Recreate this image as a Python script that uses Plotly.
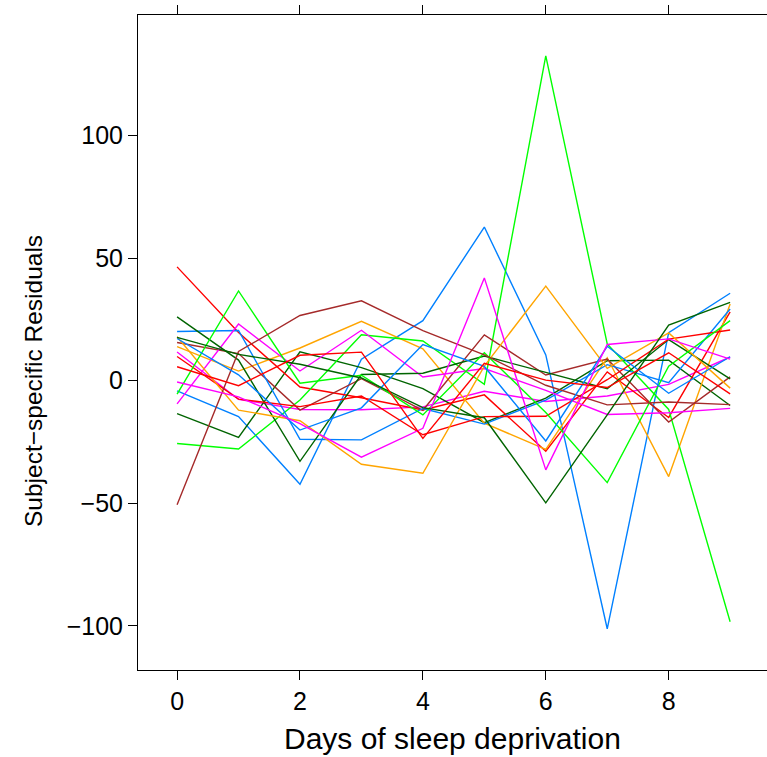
import plotly.graph_objects as go

# Days of sleep deprivation (x) and conditional residuals per subject
days = [0, 1, 2, 3, 4, 5, 6, 7, 8, 9]

subjects = ["308", "309", "310", "330", "331", "332", "333", "334", "335",
            "337", "349", "350", "351", "352", "369", "370", "371", "372"]

res_308 = [-4.10, -14.63, -42.20, 8.78, 24.52, 62.69, 10.54, -101.18, 19.59, 35.69]
res_309 = [11.73, -7.58, -11.72, -11.84, -10.68, -4.28, -8.46, -6.21, -1.49, 9.68]
res_310 = [-13.39, -23.13, 11.84, 5.34, -3.21, -17.08, -7.13, 8.18, 8.42, -10.09]
res_330 = [46.45, 19.65, -2.54, -6.92, -11.91, -5.77, -28.77, 3.59, -14.97, 28.08]
res_331 = [13.94, 3.94, 13.36, 24.26, 13.03, -17.33, -27.97, 9.38, -39.09, 31.34]
res_332 = [-25.58, -27.83, -7.87, 18.74, 16.24, -1.42, 132.55, 15.02, -11.70, -98.34]
res_333 = [15.60, 11.07, -11.96, 0.83, -12.05, 18.70, 2.32, 8.89, -16.84, 1.60]
res_334 = [20.08, 20.49, -23.89, -24.13, -11.32, -17.69, -7.90, 6.55, -0.76, 29.25]
res_335 = [-9.46, 23.16, 3.99, 20.58, 1.52, 4.99, -3.91, -13.77, -13.04, -11.26]
res_337 = [26.07, 8.42, -32.88, 2.54, 3.05, 10.07, 3.39, -3.27, 16.80, 0.77]
res_349 = [9.91, -7.52, -10.55, -6.20, -22.05, -14.63, -14.48, 0.42, 16.96, 20.69]
res_350 = [17.96, -11.97, -16.30, -34.05, -37.74, 5.98, 38.62, 5.02, 19.51, -3.01]
res_351 = [-5.46, 36.62, -1.00, 2.25, -13.96, 11.38, -12.95, -41.55, 5.94, 24.52]
res_352 = [-50.59, 11.92, 26.61, 32.59, 20.46, 10.55, -1.85, -9.86, -8.65, -9.75]
res_369 = [17.24, 2.42, -20.12, -11.04, 14.78, 5.83, -24.57, 14.07, -5.11, 9.78]
res_370 = [-0.53, -6.56, -17.47, -31.19, -19.41, 41.95, -36.37, 14.78, 17.06, 8.84]
res_371 = [17.67, 10.75, 6.73, 1.14, -10.96, -15.10, -49.81, -13.93, 22.74, 31.95]
res_372 = [5.69, -2.00, 10.38, 11.66, -23.55, 7.13, 0.25, -2.76, 11.41, -5.36]

residuals = [res_308, res_309, res_310, res_330, res_331, res_332, res_333,
             res_334, res_335, res_337, res_349, res_350, res_351, res_352,
             res_369, res_370, res_371, res_372]

# lattice superpose.line palette, recycled over the subjects
palette = ["#0080ff", "#ff00ff", "#006400", "#ff0000", "#ffa500", "#00ff00", "#a52a2a"]

x_ticks = [0, 2, 4, 6, 8]
y_ticks = [-100, -50, 0, 50, 100]
y_tick_text = ["\u2212100", "\u221250", "0", "50", "100"]

FONT = "Liberation Sans, Arial, Helvetica, sans-serif"

fig = go.Figure()
for i, (subj, vals) in enumerate(zip(subjects, residuals)):
    fig.add_trace(go.Scatter(
        x=days, y=vals, mode="lines", name=subj,
        line=dict(color=palette[i % len(palette)], width=1.4),
        showlegend=False, hoverinfo="skip",
    ))

fig.update_layout(
    width=767, height=757,
    margin=dict(l=138, r=0, t=15, b=87),
    paper_bgcolor="white", plot_bgcolor="white",
    font=dict(family=FONT, color="black", size=25),
    xaxis=dict(
        range=[-0.636, 9.60], tickvals=x_ticks,
        showline=True, mirror="ticks", linecolor="black", linewidth=1,
        ticks="outside", ticklen=9, tickcolor="black", tickwidth=1,
        showgrid=False, zeroline=False,
        tickfont=dict(family=FONT, size=25, color="black"),
    ),
    yaxis=dict(
        range=[-118.0, 149.2], tickvals=y_ticks, ticktext=y_tick_text,
        showline=True, mirror=False, linecolor="black", linewidth=1,
        ticks="outside", ticklen=9, tickcolor="black", tickwidth=1,
        showgrid=False, zeroline=False,
        tickfont=dict(family=FONT, size=25, color="black"),
    ),
    annotations=[
        dict(text="Days of sleep deprivation", xref="paper", yref="paper",
             x=(453 - 138) / 629, y=(670 - 738) / 655,
             xanchor="center", yanchor="middle", showarrow=False,
             font=dict(family=FONT, size=30, color="black")),
        dict(text="Subject\u2212specific Residuals", xref="paper", yref="paper",
             x=(33 - 138) / 629, y=(670 - 381) / 655, textangle=-90,
             xanchor="center", yanchor="middle", showarrow=False,
             font=dict(family=FONT, size=24.5, color="black")),
    ],
)

fig.write_html("out.html")
